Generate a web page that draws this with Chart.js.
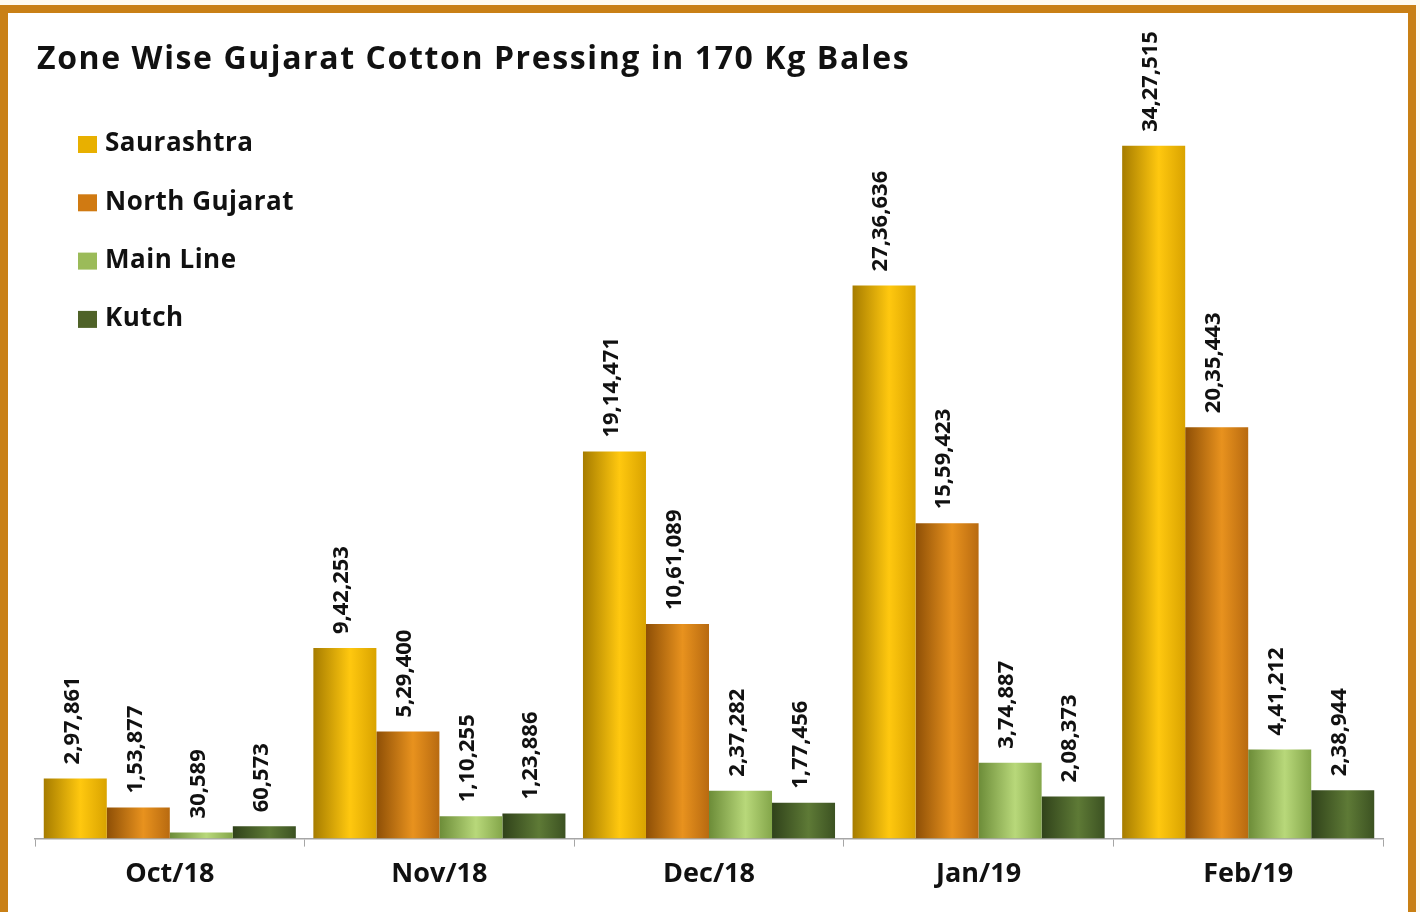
<!DOCTYPE html>
<html>
<head>
<meta charset="utf-8">
<script src="https://cdn.jsdelivr.net/npm/chart.js@4.4.1/dist/chart.umd.min.js"></script>
<style>
  html, body { margin: 0; padding: 0; background: #fffbf0; }
  #frame {
    position: absolute; left: 0; top: 5px; width: 1400px; height: 900px;
    border: 8px solid #c98016; border-bottom: 2px solid #e0b45a;
    background: #fff;
  }
  #wrap { position: absolute; left: 0; top: 0; width: 1420px; height: 912px; }
</style>
</head>
<body>
<div id="frame"></div>
<div id="wrap"><canvas id="myChart" width="1420" height="912"></canvas></div>
<script>
const chartTitle = 'Zone Wise Gujarat Cotton Pressing in 170 Kg Bales';
const months = ['Oct/18', 'Nov/18', 'Dec/18', 'Jan/19', 'Feb/19'];
const zones = ['Saurashtra', 'North Gujarat', 'Main Line', 'Kutch'];
const saurashtra = [297861, 942253, 1914471, 2736636, 3427515];
const northGujarat = [153877, 529400, 1061089, 1559423, 2035443];
const mainLine = [30589, 110255, 237282, 374887, 441212];
const kutch = [60573, 123886, 177456, 208373, 238944];

// flat colours for the legend, and left / highlight / right for the cylinder look
const legendColors = ['#e8b000', '#d07a12', '#9bbb59', '#4f6228'];
const barShades = [
  ['#a67c00', '#ffc80f', '#d9a300'],
  ['#8e4f06', '#e8921e', '#b86a10'],
  ['#6c8c38', '#b8d87a', '#84a64a'],
  ['#30421a', '#5e7a36', '#3c5222']
];
const CAT_PCT = 0.935;

function indianFormat(n) {
  var s = String(n);
  if (s.length <= 3) return s;
  var last3 = s.slice(-3);
  var rest = s.slice(0, -3);
  return rest.replace(/\B(?=(\d{2})+(?!\d))/g, ',') + ',' + last3;
}

function barGradient(ctx) {
  var chart = ctx.chart;
  var xs = chart.scales.x;
  var area = chart.chartArea;
  if (!xs || !area) return legendColors[ctx.datasetIndex];
  var catW = xs.width / months.length;
  var size = catW * CAT_PCT;
  var bw = size / zones.length;
  var center = xs.getPixelForValue(ctx.dataIndex);
  var left = center - size / 2 + ctx.datasetIndex * bw;
  var g = chart.ctx.createLinearGradient(left, 0, left + bw, 0);
  var sh = barShades[ctx.datasetIndex];
  g.addColorStop(0, sh[0]);
  g.addColorStop(0.58, sh[1]);
  g.addColorStop(1, sh[2]);
  return g;
}

// title + vertical legend drawn inside the plot
const overlayPlugin = {
  id: 'overlay',
  afterDraw(chart) {
    const c = chart.ctx;
    c.save();
    c.fillStyle = '#111';
    c.textBaseline = 'middle';
    c.textAlign = 'left';
    c.letterSpacing = '1.6px';
    c.font = 'bold 32px "Open Sans"';
    c.fillText(chartTitle, 37, 60);
    c.letterSpacing = '0.5px';
    c.font = 'bold 26px "Open Sans"';
    chart.data.datasets.forEach((ds, i) => {
      const y = 144 + i * 58.3;
      c.fillStyle = legendColors[i];
      c.fillRect(78, y - 8, 19, 17);
      c.fillStyle = '#111';
      c.fillText(ds.label, 105, y);
    });
    c.restore();
  }
};

// rotated value labels above each bar
const valueLabels = {
  id: 'valueLabels',
  afterDatasetsDraw(chart) {
    const c = chart.ctx;
    c.save();
    c.font = 'bold 22px "Open Sans"';
    c.fillStyle = '#111';
    c.textAlign = 'left';
    c.textBaseline = 'middle';
    chart.data.datasets.forEach((ds, i) => {
      chart.getDatasetMeta(i).data.forEach((bar, j) => {
        c.save();
        c.translate(bar.x - 3, bar.y - 14);
        c.rotate(-Math.PI / 2);
        c.fillText(indianFormat(ds.data[j]), 0, 0);
        c.restore();
      });
    });
    c.restore();
  }
};

const seriesValues = [saurashtra, northGujarat, mainLine, kutch];

new Chart(document.getElementById('myChart').getContext('2d'), {
  type: 'bar',
  data: {
    labels: months,
    datasets: zones.map((z, i) => ({
      label: z,
      data: seriesValues[i],
      backgroundColor: barGradient,
      borderWidth: 0,
      categoryPercentage: CAT_PCT,
      barPercentage: 1
    }))
  },
  options: {
    responsive: false,
    animation: false,
    maintainAspectRatio: false,
    layout: { padding: { top: 30, left: 35, right: 37, bottom: 9 } },
    plugins: {
      legend: { display: false },
      title: { display: false },
      tooltip: { enabled: false }
    },
    scales: {
      x: {
        offset: true,
        grid: {
          offset: true,
          drawOnChartArea: false,
          drawTicks: true,
          tickLength: 8,
          color: '#a6a6a6'
        },
        border: { display: true, color: '#a6a6a6', width: 1.5 },
        ticks: {
          color: '#111',
          padding: 12,
          font: { family: 'Open Sans', size: 27, weight: 'bold' }
        }
      },
      y: {
        display: false,
        min: 0,
        max: 4000000
      }
    }
  },
  plugins: [overlayPlugin, valueLabels]
});
</script>
</body>
</html>
